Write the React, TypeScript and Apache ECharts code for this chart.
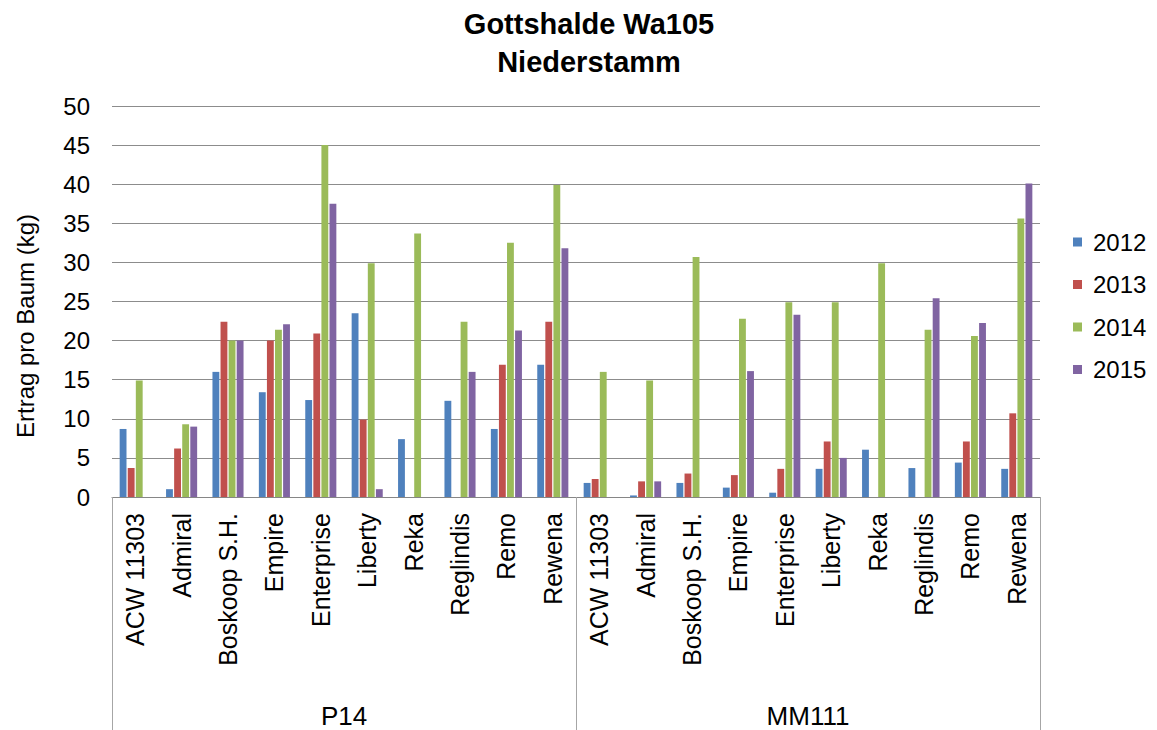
import React, { useEffect, useRef } from "react";
import * as echarts from "echarts";

const varieties = ["ACW 11303", "Admiral", "Boskoop S.H.", "Empire", "Enterprise", "Liberty", "Reka", "Reglindis", "Remo", "Rewena"];
const groups = ["P14", "MM111"];
const categories = [...varieties, ...varieties];
const years = ["2012", "2013", "2014", "2015"];

const y2012 = [8.7, 1.0, 16.0, 13.4, 12.4, 23.5, 7.4, 12.3, 8.7, 16.9, 1.8, 0.2, 1.8, 1.2, 0.55, 3.6, 6.05, 3.7, 4.4, 3.6];
const y2013 = [3.7, 6.2, 22.4, 20.0, 20.9, 9.9, null, null, 16.9, 22.4, 2.3, 2.0, 3.0, 2.8, 3.6, 7.1, null, null, 7.1, 10.7];
const y2014 = [14.9, 9.3, 20.0, 21.4, 45.0, 29.9, 33.7, 22.4, 32.5, 39.9, 16.0, 14.9, 30.7, 22.8, 24.9, 24.9, 29.9, 21.4, 20.6, 35.6];
const y2015 = [null, 9.0, 20.0, 22.1, 37.5, 1.0, null, 16.0, 21.3, 31.8, null, 2.0, null, 16.1, 23.3, 5.0, null, 25.4, 22.25, 40.1];

const seriesValues = [y2012, y2013, y2014, y2015];
const colors = ["#4F81BD", "#C0504D", "#9BBB59", "#8064A2"];
const yTicks = [0, 5, 10, 15, 20, 25, 30, 35, 40, 45, 50];
const yAxisTitle = "Ertrag pro Baum (kg)";

const FONT = "Liberation Sans, Arial, sans-serif";

export default function App() {
  const ref = useRef<HTMLDivElement>(null);
  useEffect(() => {
    if (!ref.current) return;
    const chart = echarts.init(ref.current, undefined, { renderer: "svg" });
    chart.setOption({
      animation: false,
      textStyle: { fontFamily: FONT, color: "#000" },
      title: {
        text: "Gottshalde Wa105\nNiederstamm",
        left: 584,
        top: 0,
        textAlign: "center",
        textStyle: { fontFamily: FONT, fontWeight: "bold", fontSize: 29, lineHeight: 38, color: "#000" },
      },
      legend: {
        orient: "vertical",
        left: 1068,
        top: 225,
        itemWidth: 9,
        itemHeight: 9,
        itemGap: 18.5,
        icon: "rect",
        data: years,
        textStyle: { fontFamily: FONT, fontSize: 24, color: "#000", padding: [0, 0, 0, 6] },
      },
      grid: { left: 112, right: 117, top: 106, bottom: 233, containLabel: false },
      graphic: [
        {
          type: "text",
          x: 25,
          y: 326,
          rotation: Math.PI / 2,
          style: {
            text: yAxisTitle,
            fontFamily: FONT,
            fontSize: 24,
            fill: "#000",
            align: "center",
            verticalAlign: "middle",
          },
        },
      ],
      xAxis: [
        {
          type: "category",
          data: categories,
          position: "bottom",
          axisLine: { show: true, lineStyle: { color: "#868686", width: 1 } },
          axisTick: { show: false },
          axisLabel: {
            interval: 0,
            rotate: 90,
            margin: 16,
            fontSize: 25,
            fontFamily: FONT,
            color: "#000",
          },
        },
        {
          type: "category",
          data: groups,
          position: "bottom",
          axisLine: { show: false },
          axisTick: { show: true, interval: 0, length: 233, lineStyle: { color: "#a6a6a6", width: 1 } },
          axisLabel: { interval: 0, margin: 206, fontSize: 26, fontFamily: FONT, color: "#000" },
          splitLine: { show: false },
        },
      ],
      yAxis: {
        type: "value",
        min: yTicks[0],
        max: yTicks[yTicks.length - 1],
        interval: 5,
        axisLine: { show: false },
        axisTick: { show: false },
        axisLabel: { fontSize: 24, margin: 22, fontFamily: FONT, color: "#000" },
        splitLine: { lineStyle: { color: "#8c8c8c", width: 1 } },
      },
      series: years.map((y, i) => ({
        name: y,
        type: "bar",
        xAxisIndex: 0,
        data: seriesValues[i],
        barCategoryGap: "33%",
        barGap: "18%",
        itemStyle: { color: colors[i] },
      })),
    });
    return () => chart.dispose();
  }, []);
  return <div ref={ref} style={{ position: "fixed", left: 0, top: 0, width: 1157, height: 730, background: "#fff" }} />;
}
